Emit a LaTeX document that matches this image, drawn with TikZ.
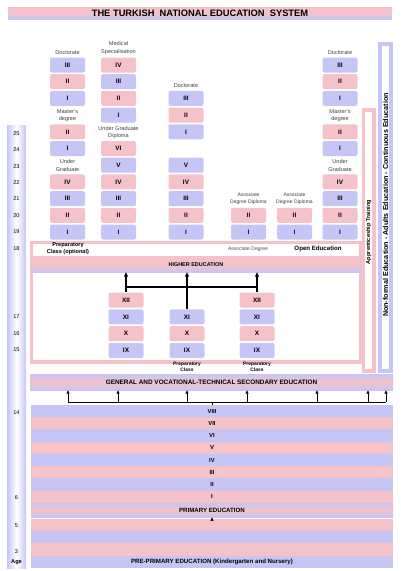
\documentclass[tikz,border=0pt]{standalone}
\usepackage{fontspec}
\setmainfont{Liberation Sans}
\usetikzlibrary{arrows.meta}

\definecolor{edpink}{RGB}{245,194,202}
\definecolor{edlav}{RGB}{198,198,246}

\tikzset{
  yrbox/.style={rounded corners=1.5pt, minimum width=26.25pt, minimum height=11.25pt,
    inner sep=0pt, font=\fontsize{4.8}{5}\selectfont\bfseries},
  lavbox/.style={yrbox, fill=edlav},
  pinkbox/.style={yrbox, fill=edpink},
  caption/.style={font=\fontsize{4.2}{5.4}\selectfont, align=center, inner sep=0pt, text=black!75},
  agetext/.style={font=\fontsize{4.2}{5}\selectfont, inner sep=0pt},
  bandtext/.style={font=\fontsize{4.6}{5.2}\selectfont\bfseries, align=center, inner sep=0pt},
  stripe/.style={minimum width=271.5pt, minimum height=9.2pt, inner sep=0pt,
    font=\fontsize{4.4}{5}\selectfont\bfseries},
  uparrow/.style={-{Triangle[length=3.2pt,width=2.8pt]}, line width=0.9pt},
  smallarrow/.style={-{Triangle[length=2.6pt,width=2.4pt]}, line width=0.5pt},
}

\begin{document}
\begin{tikzpicture}[x=0.75pt,y=-0.75pt]
  \useasboundingbox (0,0) rectangle (400,571);

  % title
  \node[minimum width=288pt, minimum height=9pt, inner sep=0pt,
    top color=edpink, bottom color=edlav, middle color=edpink,
    font=\fontsize{7}{8}\selectfont\bfseries] (title) at (200,13) {THE TURKISH\ \ NATIONAL EDUCATION\ \ SYSTEM};

  % age column
  \fill[left color=edlav, right color=edlav, middle color=white] (7,125) rectangle (26,568);
  \foreach \a/\y in {25/134,24/149.5,23/166.5,22/183,21/199,20/215.5,19/232,18/249,
                     17/317,16/334,15/349.5,14/413,6/498,5/526,3/552}
    \node[agetext] (age\a) at (16.5,\y) {\a};
  \node[agetext, font=\fontsize{4.2}{5}\selectfont\bfseries] (agehead) at (16.5,562) {Age};

  % right-hand bars
  \draw[edlav, line width=2.6pt, fill=white] (380,44) rectangle (391,371);
  \node[rotate=90, font=\fontsize{5.4}{6}\selectfont\bfseries, inner sep=0pt] (nonformal)
    at (385.5,205) {Non-formal Education - Adults Education - Continuous Education};
  \draw[edpink, line width=2.6pt, fill=white] (363.5,110) rectangle (374,371);
  \node[rotate=90, font=\fontsize{4.2}{5}\selectfont\bfseries, inner sep=0pt] (appr)
    at (368.75,232) {Apprenticeship Training};

  % undergraduate, master's and doctorate (left and right)
  \foreach \cx/\c in {67.5/L,340/R} {
    \foreach \n/\s [count=\r from 0] in {I/lavbox,II/pinkbox,III/lavbox,IV/pinkbox}
      \node[\s] (ug\c\r) at (\cx,{232-16.7*\r}) {\n};
    \node[caption] (ugcap\c) at (\cx,165.5) {Under\\Graduate};
    \foreach \n/\s [count=\r from 5] in {I/lavbox,II/pinkbox}
      \node[\s] (ms\c\r) at (\cx,{232-16.7*\r}) {\n};
    \node[caption] (mscap\c) at (\cx,116) {Master's\\degree};
    \foreach \n/\s [count=\r from 8] in {I/lavbox,II/pinkbox,III/lavbox}
      \node[\s] (dr\c\r) at (\cx,{232-16.7*\r}) {\n};
    \node[caption] (drcap\c) at (\cx,53) {Doctorate};
  }

  % medicine
  \foreach \n/\s [count=\r from 0] in {I/lavbox,II/pinkbox,III/lavbox,IV/pinkbox,V/lavbox,VI/pinkbox}
    \node[\s] (ugM\r) at (118.5,{232-16.7*\r}) {\n};
  \node[caption] (ugcapM) at (118.5,132.5) {Under Graduate\\Diploma};
  \foreach \n/\s [count=\r from 7] in {I/lavbox,II/pinkbox,III/lavbox,IV/pinkbox}
    \node[\s] (med\r) at (118.5,{232-16.7*\r}) {\n};
  \node[caption] (medcap) at (118.5,48) {Medical\\Specialisation};

  % five-year undergraduate and doctorate
  \foreach \n/\s [count=\r from 0] in {I/lavbox,II/pinkbox,III/lavbox,IV/pinkbox,V/lavbox}
    \node[\s] (ugC\r) at (186,{232-16.7*\r}) {\n};
  \foreach \n/\s [count=\r from 6] in {I/lavbox,II/pinkbox,III/lavbox}
    \node[\s] (drC\r) at (186,{232-16.7*\r}) {\n};
  \node[caption] (drcapC) at (186,86) {Doctorate};

  % associate degrees
  \foreach \cx/\c in {248.5/A,294.5/B} {
    \node[lavbox] (as\c0) at (\cx,232) {I};
    \node[pinkbox] (as\c1) at (\cx,215.3) {II};
    \node[caption, font=\fontsize{3.8}{5}\selectfont] (ascap\c) at (\cx,199) {Associate\\Degree Diploma};
  }

  % age 18 band and frame round the secondary school
  \draw[edpink, line width=2.4pt] (31.5,272) -- (31.5,362) -- (360.5,362) -- (360.5,272);
  \draw[edpink, line width=2.2pt, fill=white] (31.5,242.5) rectangle (360.5,257);
  \node[bandtext, font=\fontsize{4.2}{5.2}\selectfont\bfseries] (prep) at (68,248.5) {Preparatory\\Class (optional)};
  \node[font=\fontsize{3.8}{4.5}\selectfont, text=black!70, inner sep=0pt] (assoc) at (248,249) {Associate Degree};
  \node[bandtext] (open) at (318,249) {Open Education};
  \node[bandtext, font=\fontsize{4.1}{5}\selectfont\bfseries, minimum width=249pt, minimum height=10.5pt,
    top color=edpink, bottom color=edlav, middle color=edpink] (he) at (196,265) {HIGHER EDUCATION};

  % secondary school
  \foreach \cx/\c in {126/A,257/C}
    \foreach \n/\s [count=\r from 0] in {IX/lavbox,X/pinkbox,XI/lavbox,XII/pinkbox}
      \node[\s] (sec\c\r) at (\cx,{350.5-16.8*\r}) {\n};
  \foreach \n/\s [count=\r from 0] in {IX/lavbox,X/pinkbox,XI/lavbox}
    \node[\s] (secB\r) at (187,{350.5-16.8*\r}) {\n};
  \node[bandtext, font=\fontsize{3.7}{4.4}\selectfont\bfseries] (prepB) at (187,367) {Preparatory\\Class};
  \node[bandtext, font=\fontsize{3.7}{4.4}\selectfont\bfseries] (prepC) at (257,367) {Preparatory\\Class};

  \draw[uparrow] (secA3.north) -- (secA3.north |- he.south);
  \draw[uparrow] (secB2.north) -- (secB2.north |- he.south);
  \draw[uparrow] (secC3.north) -- (secC3.north |- he.south);
  \coordinate (jA) at (126,287);
  \coordinate (jC) at (257,287);
  \draw[line width=0.9pt] (jA) -- (jC);

  \node[bandtext, font=\fontsize{4.8}{5.4}\selectfont\bfseries, minimum width=272.25pt, minimum height=12pt,
    top color=edlav, bottom color=edlav, middle color=edpink] (gvs) at (211.5,382)
    {GENERAL AND VOCATIONAL-TECHNICAL SECONDARY EDUCATION};

  % from primary to secondary
  \foreach \x [count=\i] in {68,118,187,247,317,368,386} {
    \coordinate (lo\i) at (\x,402);
    \draw[smallarrow] (lo\i) -- (lo\i |- gvs.south);
  }
  \draw[line width=0.5pt] (lo1) -- (lo7);

  % primary
  \foreach \n/\s [count=\i from 0] in {VIII/edlav,VII/edpink,VI/edlav,V/edpink,IV/edlav,III/edpink,II/edlav,I/edpink}
    \node[stripe, fill=\s] (pr\i) at (212,{411.1+12.25*\i}) {\n};
  \draw[line width=0.5pt] (pr0.north) -- (pr0.north |- lo1);
  \node[stripe, minimum height=10.5pt, font=\fontsize{4.6}{5}\selectfont\bfseries,
    top color=edlav, bottom color=edlav, middle color=edpink] (pe) at (212,510) {PRIMARY EDUCATION};

  % pre-primary
  \foreach \s [count=\i from 0] in {edpink,edlav,edpink}
    \node[stripe, fill=\s] (pp\i) at (212,{525.1+12.25*\i}) {};
  \node[stripe, fill=edlav, font=\fontsize{4.6}{5}\selectfont\bfseries] (pp3) at (212,561.9)
    {PRE-PRIMARY EDUCATION (Kindergarten and Nursery)};
  \draw[smallarrow] (pp0.north) -- (pe.south);
\end{tikzpicture}
\end{document}
